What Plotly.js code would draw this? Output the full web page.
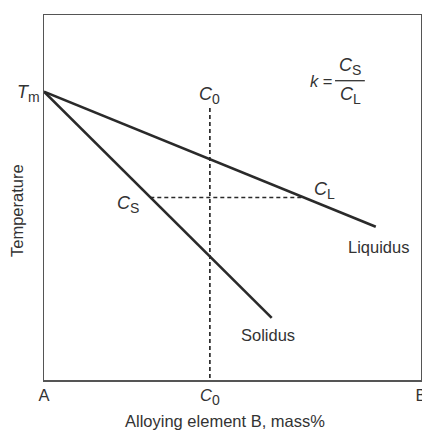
<!DOCTYPE html>
<html>
<head>
<meta charset="utf-8">
<script src="https://cdn.plot.ly/plotly-3.0.1.min.js"></script>
<style>html,body{margin:0;padding:0;overflow:hidden;background:#fff}</style>
</head>
<body>
<div id="wrap" style="width:422px;height:430px;overflow:hidden">
<div id="chart" style="width:440px;height:430px"></div>
</div>
<script>
// Data (composition in % of A→B axis, temperature in % of axis height)
const liquidusX = [0, 88];
const liquidusY = [79, 42];
const solidusX = [0, 60.4];
const solidusY = [79, 17];
const tieLineX = [28.2, 69];
const tieLineY = [50, 50];
const c0X = [44, 44];
const c0Y = [74.5, 0];
const sub = s => "<sub><span style='font-size:14px'>" + s + "</span></sub>";
const tickVals = [0, 44, 100];
const tickText = ["A", "<i>C</i>" + sub("0"), "B"];

const dark = '#2a2a2a';
const txt = '#333333';
const font = {family: 'Liberation Sans, Arial, sans-serif', size: 16.5, color: txt};
const bigFont = {family: 'Liberation Sans, Arial, sans-serif', size: 18, color: txt};

const traces = [
  {x: liquidusX, y: liquidusY, mode: 'lines', line: {color: dark, width: 2.6}, hoverinfo: 'skip'},
  {x: solidusX, y: solidusY, mode: 'lines', line: {color: dark, width: 2.6}, hoverinfo: 'skip'},
  {x: tieLineX, y: tieLineY, mode: 'lines', line: {color: dark, width: 1.5, dash: '4px,3px'}, hoverinfo: 'skip'},
  {x: c0X, y: c0Y, mode: 'lines', line: {color: dark, width: 1.7, dash: '4px,3px'}, hoverinfo: 'skip'}
];

const ann = (x, y, text, extra) => Object.assign({x, y, xref: 'x', yref: 'y', text, showarrow: false, font}, extra || {});

const layout = {
  width: 440, height: 430,
  margin: {l: 44, r: 19, t: 15, b: 50},
  paper_bgcolor: '#fff', plot_bgcolor: '#fff',
  showlegend: false,
  font: font,
  xaxis: {
    range: [0, 100], showgrid: false, zeroline: false,
    showline: true, mirror: true, linecolor: '#555', linewidth: 1.5,
    tickmode: 'array', tickvals: tickVals, ticktext: tickText,
    ticks: '', tickfont: font, fixedrange: true
  },
  yaxis: {
    range: [0, 100], showgrid: false, zeroline: false,
    showline: true, mirror: true, linecolor: '#555', linewidth: 1.5,
    showticklabels: false, ticks: '', fixedrange: true
  },
  shapes: [
    {type: 'line', xref: 'x', yref: 'y', x0: 77.2, x1: 85.1, y0: 82, y1: 82, line: {color: txt, width: 1.3}}
  ],
  annotations: [
    ann(0, 78.5, "<i>T</i>" + sub("m"), {xanchor: 'right', xshift: -2, font: bigFont}),
    ann(44, 78, "<i>C</i>" + sub("0"), {font: bigFont}),
    ann(74.5, 52, "<i>C</i>" + sub("L"), {font: bigFont}),
    ann(22.3, 48, "<i>C</i>" + sub("S"), {font: bigFont}),
    ann(88.6, 36.4, "Liquidus"),
    ann(59.4, 12.3, "Solidus"),
    ann(73.5, 82, "<i>k</i> ="),
    ann(81.2, 86, "<i>C</i>" + sub("S"), {font: bigFont}),
    ann(81.2, 78, "<i>C</i>" + sub("L"), {font: bigFont}),
    {xref: 'paper', yref: 'paper', x: 0.48, y: -0.113, xanchor: 'center', yanchor: 'middle', text: 'Alloying element B, mass%', showarrow: false, font},
    {xref: 'paper', yref: 'paper', x: -0.0716, y: 0.463, xanchor: 'center', yanchor: 'middle', text: 'Temperature', textangle: -90, showarrow: false, font}
  ]
};

Plotly.newPlot('chart', traces, layout, {staticPlot: true, displayModeBar: false});
</script>
</body>
</html>
